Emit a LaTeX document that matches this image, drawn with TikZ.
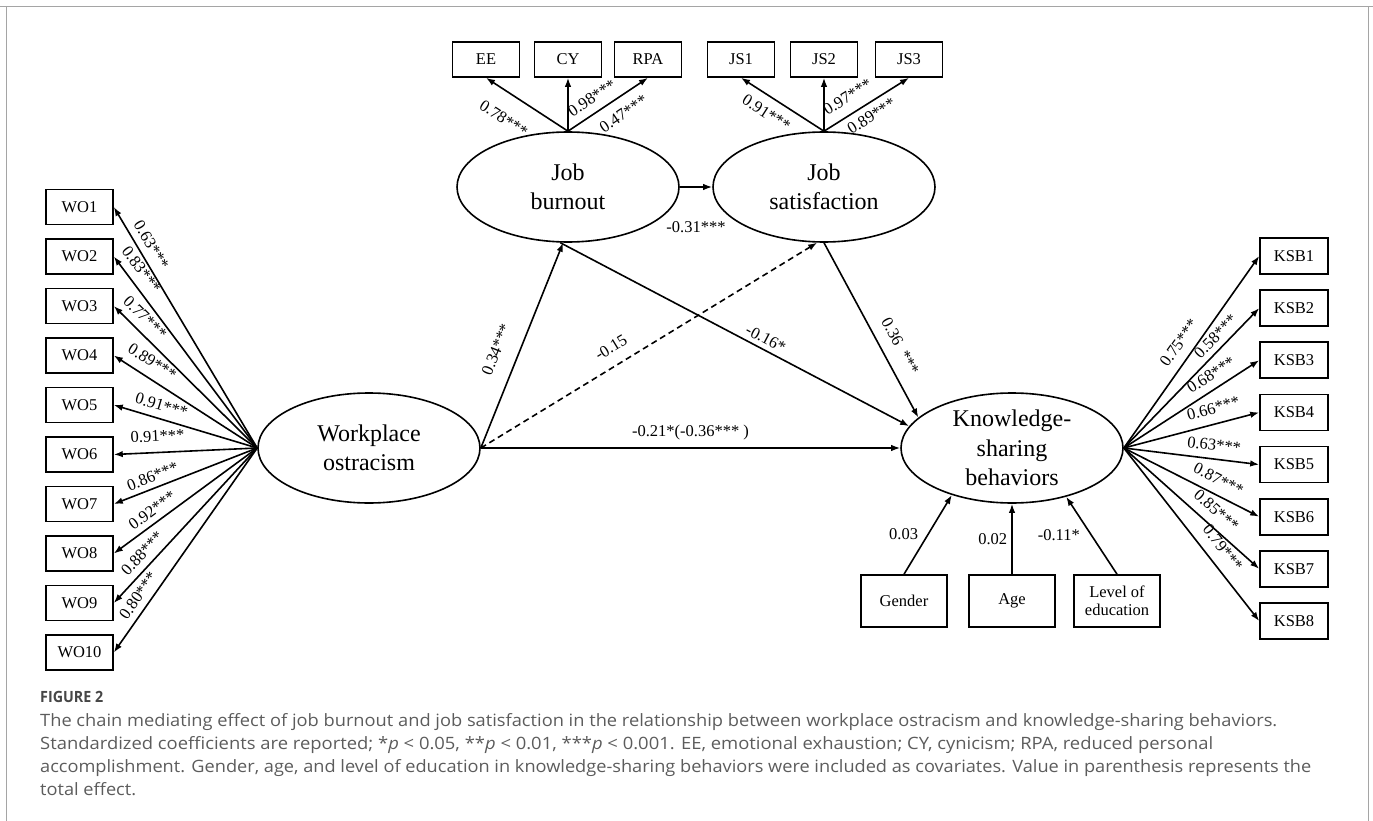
\documentclass[tikz,border=0pt]{standalone}
\usepackage{fontspec}
\setmainfont{Liberation Serif}
\newfontfamily\capfont{Open Sans}
\usetikzlibrary{shapes.geometric,arrows.meta}
\definecolor{capgray}{RGB}{92,92,92}
\definecolor{figgray}{RGB}{70,70,70}
\definecolor{framegray}{RGB}{165,165,165}
\begin{document}
\begin{tikzpicture}[x=1pt,y=-1pt,
  obs/.style={draw, line width=1.6pt, minimum width=67pt, minimum height=35pt, inner sep=0pt, font=\fontsize{16.5}{19}\selectfont},
  cov/.style={obs, minimum width=86pt, minimum height=52pt, align=center, font=\fontsize{16.5}{18.5}\selectfont},
  lat/.style={draw, ellipse, line width=1.6pt, minimum width=222pt, minimum height=110pt, inner sep=0pt},
  ltext/.style={align=center, inner sep=0pt, font=\fontsize{24}{29.5}\selectfont},
  arr/.style={line width=1.6pt, -{Latex[length=9pt,width=6.5pt]}},
  rarr/.style={line width=1.6pt, {Latex[length=9pt,width=6.5pt]}-},
  dsh/.style={dash pattern=on 6pt off 4pt},
  coef/.style={font=\fontsize{16.5}{19}\selectfont, inner sep=1pt},
  captxt/.style={anchor=base west, inner sep=0pt, text=capgray, font=\capfont\fontsize{17}{20}\selectfont},
]
\useasboundingbox (0,0) rectangle (1373,821);
\draw[framegray, line width=1.6pt] (6.5,821) -- (6.5,6.5) -- (1368.5,6.5) -- (1368.5,821);
\draw[framegray, line width=1.6pt] (0,6.5) -- (1373,6.5);

% latent variables
\node[lat, label={[ltext]center:Workplace\\ostracism}] (WO) at (369,448) {};
\node[lat, label={[ltext]center:Job\\burnout}] (JB) at (568,187) {};
\node[lat, label={[ltext]center:Job\\satisfaction}] (JS) at (824,187) {};
\node[lat, label={[ltext]center:Knowledge-\\sharing\\behaviors}] (KSB) at (1012,448) {};

% indicators
\foreach \i in {1,...,10}
  \node[obs] (WO\i) at (79.5,{207+49.5*(\i-1)}) {WO\i};
\foreach \i in {1,...,8}
  \node[obs, minimum width=68pt, minimum height=36pt] (KSB\i) at (1294,{256+52.14*(\i-1)}) {KSB\i};
\node[obs] (EE) at (486,59.5) {EE};
\node[obs] (CY) at (568,59.5) {CY};
\node[obs] (RPA) at (648,59.5) {RPA};
\node[obs] (JS1) at (741,59.5) {JS1};
\node[obs] (JS2) at (824,59.5) {JS2};
\node[obs] (JS3) at (909,59.5) {JS3};
\node[cov] (G) at (904,601) {Gender};
\node[cov] (A) at (1012,601) {Age};
\node[cov] (L) at (1117,601) {Level of\\education};

% loadings of workplace ostracism
\foreach \i/\v/\p/\a in {1/0.63/0.184/5.6pt, 2/0.83/0.113/6.8pt, 3/0.77/0.15/6.5pt, 4/0.89/0.21/8.3pt, 5/0.91/0.306/6pt, 6/0.91/0.31/8.8pt, 7/0.86/0.30/4.3pt, 8/0.92/0.317/4.6pt, 9/0.88/0.263/5.4pt, 10/0.80/0.242/5.3pt}
  \draw[rarr] (WO\i.east) -- node[coef, sloped, pos=\p, above=\a] {\v***} (WO.west);

% loadings of knowledge-sharing behaviors
\foreach \i/\v/\p/\a in {1/0.75/0.50/8.3pt, 2/0.58/0.74/4.4pt, 3/0.68/0.70/6.7pt, 4/0.66/0.69/8.3pt, 5/0.63/0.655/6.3pt, 6/0.87/0.65/7.6pt, 7/0.85/0.61/7.8pt, 8/0.79/0.635/9.1pt}
  \draw[arr] (KSB.east) -- node[coef, sloped, pos=\p, above=\a] {\v***} (KSB\i.west);

% loadings of job burnout
\draw[rarr] (EE.south) -- node[coef, sloped, pos=0.38, below=17pt] {0.78***} (JB.north);
\draw[arr] (JB.north) -- (CY.south);
\draw[arr] (JB.north) -- node[coef, sloped, pos=0.40, above=7pt] {0.98***}
                        node[coef, sloped, pos=0.58, below=8.8pt] {0.47***} (RPA.south);

% loadings of job satisfaction
\draw[rarr] (JS1.south) -- node[coef, sloped, pos=0.41, below=8.3pt] {0.91***} (JS.north);
\draw[arr] (JS.north) -- (JS2.south);
\draw[arr] (JS.north) -- node[coef, sloped, pos=0.38, above=9.2pt] {0.97***}
                       node[coef, sloped, pos=0.48, below=5pt] {0.89***} (JS3.south);

% structural paths
\draw[arr] (JB.east) -- node[coef, below=33pt] {-0.31***} (JS.west);
\draw[arr] (WO.east) -- node[coef, sloped, pos=0.44, above=15pt] {0.34***} (JB.265);
\draw[arr, dsh] (WO.east) -- node[coef, sloped, pos=0.415, above=10.6pt] {-0.15} (JS.263);
\draw[arr] (JB.262) -- node[coef, sloped, pos=0.575, above=3.3pt] {-0.16*} (KSB.168);
\draw[arr] (JS.270) -- node[coef, sloped, pos=0.64, above=10.7pt] {0.36~ ***} (KSB.162);
\draw[arr] (WO.east) -- node[coef, above=6pt] {-0.21*(-0.36*** )} (KSB.west);

% covariates
\draw[arr] (G.north) -- node[coef, left=8pt] {0.03} (KSB.218);
\draw[arr] (A.north) -- node[coef, left=3pt] {0.02} (KSB.south);
\draw[arr] (L.north) -- node[coef, left=10pt] {-0.11*} (KSB.318);

% caption
\node[anchor=base west, inner sep=0pt, text=figgray, font=\capfont\bfseries\fontsize{15.5}{19}\selectfont] (fig) at (40,702) {\resizebox{63pt}{\height}{FIGURE 2}};
\node[captxt] (cap1) at (40,726) {\resizebox{1237pt}{\height}{The chain mediating effect of job burnout and job satisfaction in the relationship between workplace ostracism and knowledge-sharing behaviors.}};
\node[captxt] (cap2) at (40,749) {\resizebox{1173pt}{\height}{Standardized coefficients are reported; *\textit{p} < 0.05, **\textit{p} < 0.01, ***\textit{p} < 0.001. EE, emotional exhaustion; CY, cynicism; RPA, reduced personal}};
\node[captxt] (cap3) at (40,772) {\resizebox{1271pt}{\height}{accomplishment. Gender, age, and level of education in knowledge-sharing behaviors were included as covariates. Value in parenthesis represents the}};
\node[captxt] (cap4) at (40,795) {\resizebox{96pt}{\height}{total effect.}};
\end{tikzpicture}
\end{document}
